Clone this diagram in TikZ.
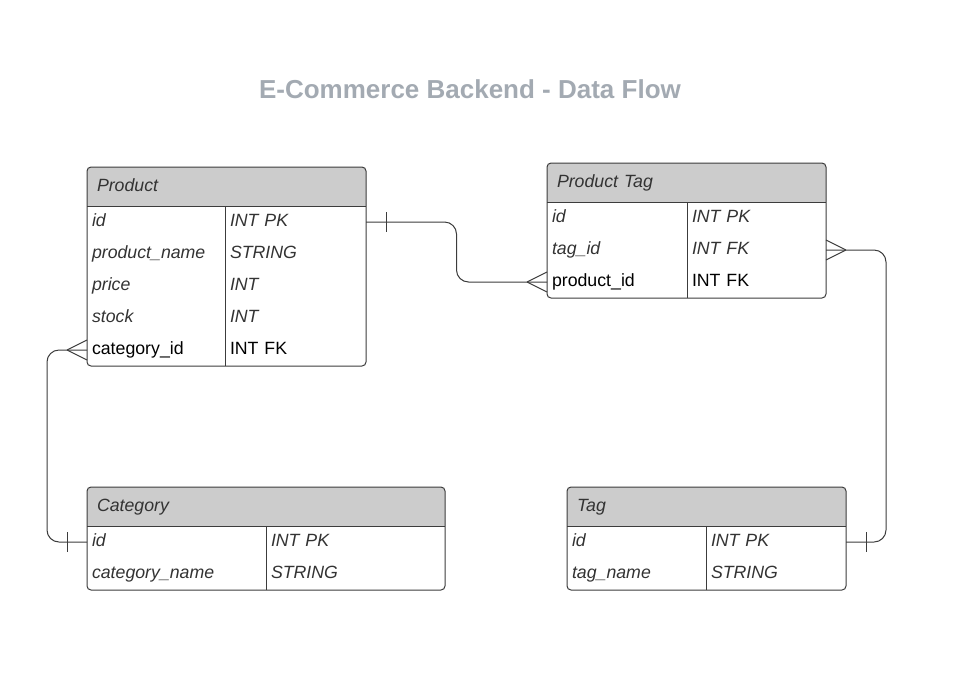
\documentclass[tikz,border=0pt]{standalone}
\usepackage{fontspec}
\setmainfont{Liberation Sans}
\usetikzlibrary{positioning, fit, calc, backgrounds}
\definecolor{headgray}{RGB}{204,204,204}
\definecolor{titlegray}{RGB}{163,170,178}
\definecolor{ink}{RGB}{51,51,51}
\definecolor{edge}{RGB}{60,60,60}

\begin{document}
\begin{tikzpicture}
        [
            x=0.75pt, y=-0.75pt,
            tablehead/.style={anchor=north west, text width=#1, align=left,
                              minimum height=29.25pt, inner xsep=7.5pt, outer sep=0pt,
                              text height=9.8pt, text depth=2.8pt,
                              font=\fontsize{13.3}{16}\selectfont\itshape, text=ink},
            fieldname/.style={text width=#1, align=left, minimum height=24pt,
                              inner xsep=3.75pt, inner ysep=0pt, outer sep=0pt,
                              text height=9.8pt, text depth=2.8pt,
                              font=\fontsize{13.3}{16}\selectfont\itshape, text=ink},
            upright/.style={font=\fontsize{13.3}{16}\selectfont, text=black},
            tablebox/.style={draw=edge, line width=0.75pt, rounded corners=3pt, inner sep=0pt},
            link/.style={draw=edge, line width=0.75pt, rounded corners=9pt},
            many/.pic={\draw[edge, line width=0.75pt] (-20,0) -- (0,-10) (-20,0) -- (0,10);},
            one/.pic={\draw[edge, line width=0.75pt] (-20,-10) -- (-20,10);}
        ]
        \useasboundingbox (0,0) rectangle (953,676);
        \node (heading) [font=\fontsize{19.5}{23}\selectfont\bfseries, text=titlegray]
            at (470,89) {E-Commerce Backend - Data Flow};

        % Product
        \node (prod) [tablehead=194.25pt] at (87,167) {Product};
        \node (prodid) [fieldname=96pt, below right=0pt and 0pt of prod.south west] {id};
        \node (prodnm) [fieldname=96pt, below=0pt of prodid] {product\_name};
        \node (prodpr) [fieldname=96pt, below=0pt of prodnm] {price};
        \node (prodst) [fieldname=96pt, below=0pt of prodpr] {stock};
        \node (prodcat) [fieldname=96pt, upright, below=0pt of prodst] {category\_id};
        \node (prodidty) [fieldname=98.25pt, right=0pt of prodid] {INT PK};
        \node (prodnmty) [fieldname=98.25pt, right=0pt of prodnm] {STRING};
        \node (prodprty) [fieldname=98.25pt, right=0pt of prodpr] {INT};
        \node (prodstty) [fieldname=98.25pt, right=0pt of prodst] {INT};
        \node (prodcatty) [fieldname=98.25pt, upright, right=0pt of prodcat] {INT FK};
        \node [tablebox, fit=(prod) (prodcatty)] {};

        % Product Tag
        \node (ptag) [tablehead=194.25pt] at (547,163) {Product Tag};
        \node (ptid) [fieldname=97.5pt, below right=0pt and 0pt of ptag.south west] {id};
        \node (pttag) [fieldname=97.5pt, below=0pt of ptid] {tag\_id};
        \node (ptpid) [fieldname=97.5pt, upright, below=0pt of pttag] {product\_id};
        \node (ptidty) [fieldname=96.75pt, right=0pt of ptid] {INT PK};
        \node (pttagty) [fieldname=96.75pt, right=0pt of pttag] {INT FK};
        \node (ptpidty) [fieldname=96.75pt, upright, right=0pt of ptpid] {INT FK};
        \node [tablebox, fit=(ptag) (ptpidty)] {};

        % Category
        \node (cat) [tablehead=253.5pt] at (87,487) {Category};
        \node (catid) [fieldname=126.75pt, below right=0pt and 0pt of cat.south west] {id};
        \node (catnm) [fieldname=126.75pt, below=0pt of catid] {category\_name};
        \node (catidty) [fieldname=126.75pt, right=0pt of catid] {INT PK};
        \node (catnmty) [fieldname=126.75pt, right=0pt of catnm] {STRING};
        \node [tablebox, fit=(cat) (catnmty)] {};

        % Tag
        \node (tag) [tablehead=194.25pt] at (567,487) {Tag};
        \node (tagid) [fieldname=96.75pt, below right=0pt and 0pt of tag.south west] {id};
        \node (tagnm) [fieldname=96.75pt, below=0pt of tagid] {tag\_name};
        \node (tagidty) [fieldname=97.5pt, right=0pt of tagid] {INT PK};
        \node (tagnmty) [fieldname=97.5pt, right=0pt of tagnm] {STRING};
        \node [tablebox, fit=(tag) (tagnmty)] {};

        \begin{pgfonlayer}{background}
            \foreach \t in {prod, ptag, cat, tag}
                \fill [headgray, rounded corners=3pt] (\t.south west) |- (\t.north) -| (\t.south east);
        \end{pgfonlayer}
        \foreach \t in {prod, ptag, cat, tag}
            \draw [edge, line width=0.75pt] (\t.south west) -- (\t.south east);
        \foreach \a/\b in {prodidty/prodcatty, ptidty/ptpidty, catidty/catnmty, tagidty/tagnmty}
            \draw [edge, line width=0.75pt] (\a.north west) -- (\b.south west);

        % relations
        \path [link] (prodidty.east) -| ($(prodidty.east)!0.5!(ptpid.west)$) |- (ptpid.west);
        \path [link] (prodcat.west) -| ([xshift=-30pt]catid.west) -- (catid.west);
        \path [link] (pttagty.east) -| ([xshift=30pt]tagidty.east) -- (tagidty.east);
        \pic [xscale=-1] at (prodidty.east) {one};
        \pic at (ptpid.west) {many};
        \pic at (prodcat.west) {many};
        \pic at (catid.west) {one};
        \pic [xscale=-1] at (pttagty.east) {many};
        \pic [xscale=-1] at (tagidty.east) {one};
    \end{tikzpicture}
\end{document}
